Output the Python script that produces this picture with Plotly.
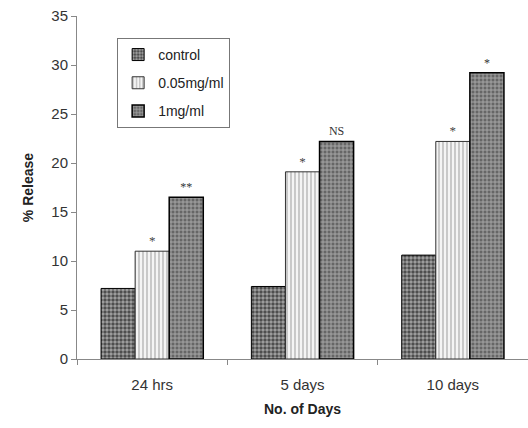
import plotly.graph_objects as go

categories = ["24 hrs", "5 days", "10 days"]
control = [7.2, 7.4, 10.6]
low_dose = [11.0, 19.1, 22.2]
high_dose = [16.5, 22.2, 29.2]
low_sig = ["*", "*", "*"]
high_sig = ["**", "NS", "*"]
series_names = ["control", "0.05mg/ml", "1mg/ml"]

fig = go.Figure()
fig.add_trace(go.Bar(
    x=categories, y=control, name=series_names[0], legendgroup="a",
    marker=dict(color="#444", line=dict(color="black", width=1),
                pattern=dict(shape=".", size=4, solidity=0.6, fgcolor="#f4f4f4", fillmode="overlay")),
))
fig.add_trace(go.Bar(
    x=categories, y=low_dose, name=series_names[1], legendgroup="b",
    text=low_sig, textposition="outside",
    textfont=dict(family="Liberation Serif", size=13, color="#444"),
    marker=dict(color="#f4f4f4", line=dict(color="#333", width=1),
                pattern=dict(shape="|", size=4, solidity=0.35, fgcolor="#777", fillmode="overlay")),
))
fig.add_trace(go.Bar(
    x=categories, y=high_dose, name=series_names[2], legendgroup="c",
    text=high_sig, textposition="outside",
    textfont=dict(family="Liberation Serif", size=12, color="#333"),
    marker=dict(color="#666", line=dict(color="black", width=1.5),
                pattern=dict(shape="+", size=4, solidity=0.4, fgcolor="#f2f2f2", fillmode="overlay")),
))

fig.update_layout(
    width=528, height=428,
    margin=dict(l=77, r=0, t=16, b=69),
    paper_bgcolor="white", plot_bgcolor="white",
    barmode="group", bargap=0.32, bargroupgap=0,
    font=dict(family="Liberation Sans, Arial", color="#333"),
    showlegend=True,
    legend=dict(x=0.089, y=0.936, xanchor="left", yanchor="top",
                bordercolor="#777", borderwidth=1, bgcolor="white",
                font=dict(size=14, color="#222"), tracegroupgap=7, itemwidth=30),
    xaxis=dict(showline=True, linecolor="#888", linewidth=1,
               ticks="outside", tickson="boundaries", ticklen=5, tickcolor="#888",
               tickfont=dict(size=15, color="#333"), ticklabelstandoff=12,
               title=dict(text="<b>No. of Days</b>", font=dict(size=14, color="#222"), standoff=12)),
    yaxis=dict(range=[0, 35], dtick=5, showline=True, linecolor="#888", linewidth=1,
               ticks="outside", ticklen=5, tickcolor="#888", showgrid=False, zeroline=False,
               tickfont=dict(size=15, color="#333"),
               title=dict(text="<b>% Release</b>", font=dict(size=14, color="#222"), standoff=14)),
)
fig.write_html("out.html")
